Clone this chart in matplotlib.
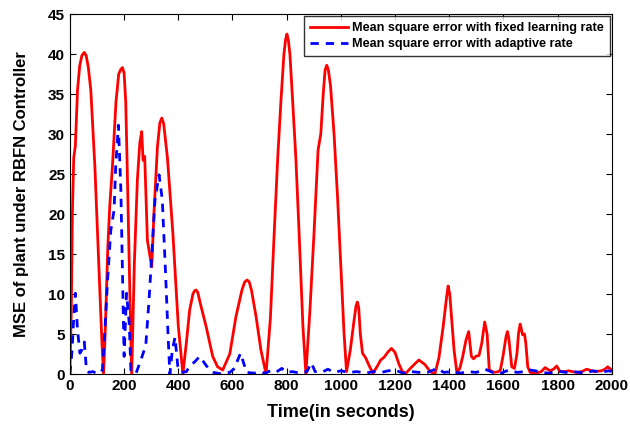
import numpy as np
import matplotlib as mpl
mpl.use('Agg')
import matplotlib.pyplot as plt

# fixed learning rate (red solid)
t_fixed = [0, 5, 9, 14, 20, 28, 36, 44, 53, 60, 68, 77, 92, 108, 118, 124, 130, 140, 147, 157, 170, 180,
           188, 194, 200, 206, 212, 220, 228, 238, 249, 258, 265, 270, 276, 286, 302, 310, 323, 332, 339,
           346, 360, 380, 400, 417, 430, 442, 454, 460, 466, 472, 480, 503, 527, 545, 564, 590, 613, 635,
           645, 654, 662, 670, 687, 705, 724, 740, 754, 767, 779, 790, 796, 801, 806, 812, 822, 834, 846,
           860, 871, 886, 901, 916, 926, 935, 942, 948, 954, 962, 975, 988, 1000, 1012, 1021, 1035, 1048,
           1056, 1061, 1066, 1072, 1080, 1092, 1105, 1119, 1135, 1147, 1160, 1175, 1187, 1200, 1215, 1227,
           1240, 1265, 1288, 1310, 1330, 1347, 1362, 1378, 1390, 1396, 1402, 1410, 1418, 1429, 1440, 1450,
           1462, 1472, 1482, 1490, 1500, 1510, 1520, 1531, 1540, 1548, 1565, 1582, 1589, 1600, 1610, 1615,
           1620, 1631, 1641, 1650, 1656, 1662, 1671, 1678, 1683, 1690, 1699, 1720, 1740, 1754, 1772, 1785,
           1797, 1809, 1825, 1840, 1870, 1890, 1907, 1937, 1962, 1975, 1985, 2000]
mse_fixed = [0.3, 8, 20, 27, 28.5, 35.5, 38.5, 39.8, 40.2, 39.8, 38.3, 35.5, 26, 12.6, 4, 0, 5, 16, 21, 26, 34,
             37.5, 38.1, 38.3, 37.6, 34, 25, 12, 0, 14, 24.3, 28.9, 30.3, 26.7, 27.2, 16.7, 13.4, 20, 28.4,
             31.4, 32, 31.3, 27, 17.6, 6, 0, 4, 8, 10, 10.4, 10.5, 10.2, 9, 5.9, 2.2, 0.9, 0.5, 2.5, 7.2, 10.5,
             11.5, 11.75, 11.5, 10.5, 7.2, 3, 0, 7, 17.6, 27, 34.2, 40, 41.8, 42.5, 41.8, 40, 34.2, 27, 17.6,
             6, 0, 8, 17.6, 28, 30, 35, 38, 38.6, 38, 36, 30, 22, 13.4, 5, 0.3, 3, 6.5,
             8.5, 9, 8.3, 5, 2.6, 2, 1, 0.1, 1, 1.75, 2.1, 2.8, 3.2, 2.7, 1.2, 0.3,
             0.1, 1, 1.75, 1.2, 0.3, 0, 2, 6, 9.5, 11, 10, 6.5, 3, 0, 0.8, 2.2,
             4.25, 5.3, 2.2, 1.9, 2.25, 2.3, 3.8, 6.5, 5, 0.5, 0.2, 0.3, 0.5, 2.5, 4.7, 5.3,
             4.5, 0.9, 0.7, 2.5, 5.1, 6.25, 4.9, 5, 3.8, 0.9, 0.2, 0.1, 0.3, 0.8, 0.4, 0.6,
             1, 0.3, 0.3, 0.4, 0.2, 0.3, 0.6, 0.3, 0.4, 0.6, 0.9, 0.5]

# adaptive rate (blue dashed)
t_adapt = [0, 8, 14, 20, 28, 37, 44, 53, 61, 70, 85, 103, 120, 130, 139, 151, 163, 169, 179, 188,
           194, 200, 209, 219, 225, 243, 262, 280, 292, 304, 314, 329, 341, 353, 363, 369, 378, 388,
           398, 410, 430, 442, 460, 479, 500, 516, 530, 560, 590, 608, 620, 630, 640, 652, 680,
           700, 720, 740, 760, 782, 800, 820, 850, 875, 891, 905, 930, 952, 975, 1000, 1030,
           1060, 1090, 1120, 1150, 1175, 1200, 1230, 1260, 1290, 1320, 1356, 1380, 1410, 1440,
           1470, 1500, 1533, 1560, 1590, 1621, 1650, 1680, 1699, 1718, 1740, 1770, 1797, 1830,
           1860, 1900, 1932, 1960, 1988, 2000]
mse_adapt = [0, 3, 7, 10.1, 5.5, 2.6, 3, 4, 0.5, 0.2, 0.3, 0, 0.5, 6, 11.75, 18, 20.5, 26, 31.1, 23,
             12.6, 2.2, 10.1, 6.3, 0.5, 0, 1.75, 3.6, 9.25, 16, 21.75, 24.9, 21.75, 12.6, 4.25, 0, 3, 4.6,
             1, 0.2, 0.3, 1, 1.5, 2.2, 1.2, 0.5, 0.2, 0, 0.2, 0.7, 1.8, 2.6, 1.5, 0.2, 0.1,
             0.3, 0.1, 0.4, 0.2, 0.7, 0.2, 0.3, 0.1, 0.3, 1.4, 0.3, 0.2, 0.6, 0.2, 0.4, 0.2,
             0.3, 0.1, 0.3, 0.2, 0.4, 0.5, 0.1, 0.3, 0.2, 0.2, 0.7, 0.2, 0.3, 0.1,
             0.3, 0.2, 0.6, 0.2, 0.1, 0.5, 0.2, 0.3, 0.5, 0.4, 0.2, 0.1, 0.4, 0.2,
             0.3, 0.1, 0.4, 0.2, 0.4, 0.3]

plt.rcParams['font.family'] = ['Liberation Sans', 'DejaVu Sans']
plt.rcParams['font.weight'] = 'bold'

fig = plt.figure(figsize=(6.3, 4.25), dpi=100)
ax = fig.add_axes([0.111, 0.12, 0.86, 0.847])

ax.plot(t_fixed, mse_fixed, color='red', linestyle='-', linewidth=2,
        label='Mean square error with fixed learning rate')
ax.plot(t_adapt, mse_adapt, color='blue', linestyle=(0, (3, 2.5)), linewidth=2,
        label='Mean square error with adaptive rate')

ax.set_xlim(0, 2000)
ax.set_ylim(0, 45)
ax.set_xticks(np.arange(0, 2001, 200))
ax.set_yticks(np.arange(0, 46, 5))
ax.tick_params(direction='in', top=True, right=True, labelsize=11, length=4)
for lab in ax.get_xticklabels() + ax.get_yticklabels():
    lab.set_fontweight('bold')

ax.set_xlabel('Time(in seconds)', fontsize=13, fontweight='bold', labelpad=8)
ax.set_ylabel('MSE of plant under RBFN Controller', fontsize=12, fontweight='bold')
ax.yaxis.set_label_coords(-0.075, 0.5)

leg = ax.legend(loc='upper right', fontsize=9.1, frameon=True, fancybox=False,
                edgecolor='black', borderaxespad=0.15, handlelength=3.0, labelspacing=0.3,
                borderpad=0.5, handletextpad=0.3)
leg.get_frame().set_linewidth(1)
for txt in leg.get_texts():
    txt.set_fontweight('bold')

fig.savefig('out.png', dpi=100)
